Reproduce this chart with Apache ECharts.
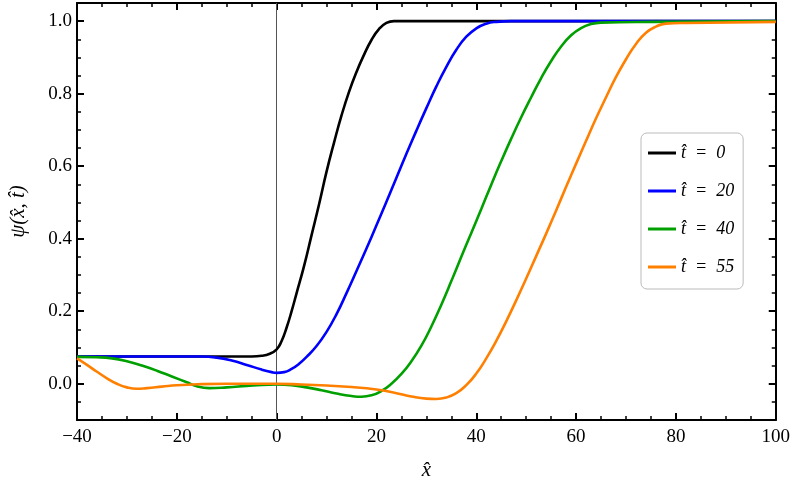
<!DOCTYPE html>
<html>
<head>
<meta charset="utf-8">
<script src="https://cdn.jsdelivr.net/npm/echarts@6/dist/echarts.min.js"></script>
<style>
  html, body { margin: 0; padding: 0; background: #fff; }
  #chart { width: 793px; height: 487px; }
</style>
</head>
<body>
<div id="chart"></div>
<script>
// profiles psi(x, t), [x, psi]
var t0Data = [[-40, 0.075], [-10, 0.075], [-5, 0.075], [-3, 0.077], [-1.5, 0.082], [0, 0.095], [1, 0.118],
  [2, 0.155], [3, 0.2], [4, 0.25], [5.5, 0.325], [7, 0.41], [8.5, 0.495], [10, 0.585], [11.5, 0.665],
  [13, 0.74], [14.5, 0.805], [16, 0.86], [17.5, 0.907], [19, 0.948], [20.5, 0.978], [22, 0.995],
  [23.5, 1.0], [30, 1.0], [100, 1.0]];
var t20Data = [[-40, 0.075], [-15, 0.075], [-12, 0.072], [-9, 0.064], [-6, 0.052], [-3, 0.039], [-1, 0.032],
  [0, 0.03], [1.5, 0.032], [3, 0.041], [4.5, 0.055], [6, 0.074], [8, 0.104], [10, 0.143], [12, 0.192],
  [14, 0.25], [16, 0.311], [18, 0.373], [20, 0.437], [22, 0.502], [24, 0.568], [26, 0.634], [28, 0.698],
  [30, 0.76], [32, 0.82], [34, 0.874], [36, 0.921], [38, 0.957], [40, 0.98], [42, 0.993], [44, 0.998],
  [47, 1.0], [100, 1.0]];
var t40Data = [[-40, 0.074], [-36, 0.073], [-33, 0.07], [-30, 0.062], [-27, 0.05], [-24, 0.036], [-21, 0.02],
  [-18, 0.004], [-16, -0.007], [-13.5, -0.012], [-10, -0.01], [-6, -0.006], [-3, -0.003], [0, -0.002],
  [3, -0.004], [6, -0.01], [9, -0.018], [12, -0.027], [15, -0.034], [17, -0.036], [19, -0.032], [21, -0.02],
  [23, 0.0], [25, 0.027], [27, 0.062], [29, 0.105], [31, 0.158], [33, 0.218], [35, 0.283], [37, 0.35],
  [39, 0.416], [41, 0.482], [43, 0.549], [45, 0.614], [47, 0.676], [49, 0.735], [51, 0.79], [53, 0.843],
  [55, 0.89], [57, 0.93], [59, 0.961], [61, 0.981], [63, 0.992], [65, 0.996], [75, 0.998], [100, 1.0]];
var t55Data = [[-40, 0.07], [-38, 0.052], [-36, 0.033], [-34, 0.015], [-32, 0.0], [-30, -0.01], [-28, -0.014],
  [-26, -0.012], [-23, -0.008], [-20, -0.004], [-15, -0.001], [-10, 0.0], [0, 0.0], [5, -0.002],
  [10, -0.005], [15, -0.009], [20, -0.016], [24, -0.026], [27, -0.035], [30, -0.041], [32, -0.042],
  [34, -0.038], [36, -0.026], [38, -0.004], [40, 0.028], [42, 0.07], [44, 0.118], [46, 0.172], [48, 0.23],
  [50, 0.29], [52, 0.352], [54, 0.414], [56, 0.478], [58, 0.543], [60, 0.607], [62, 0.67], [64, 0.732],
  [66, 0.79], [68, 0.846], [70, 0.895], [72, 0.937], [74, 0.968], [76, 0.985], [78, 0.993], [82, 0.995],
  [100, 0.998]];

var seriesNames = ['t̂  =  0', 't̂  =  20', 't̂  =  40', 't̂  =  55'];
var seriesColors = ['#000000', '#0000ff', '#00a000', '#ff8000'];
var yMajorTicks = [0, 0.2, 0.4, 0.6, 0.8, 1.0];

var serif = '"Liberation Serif", "DejaVu Serif", serif';

function fmtX(v) {
  return v < 0 ? '\u2212' + (-v) : String(v);
}
function fmtY(v) {
  var k = v / 0.2;
  if (Math.abs(k - Math.round(k)) > 1e-6) return '';
  return v.toFixed(1);
}

var frame = { show: true, onZero: false, lineStyle: { color: '#000', width: 2 } };

function xAxisOf(pos, labels) {
  return {
    type: 'value', position: pos, min: -40, max: 100, interval: 20,
    axisLine: frame,
    axisTick: { show: true, inside: true, length: 7, lineStyle: { color: '#000', width: 2 } },
    minorTick: { show: true, splitNumber: 4, length: 4, lineStyle: { color: '#000', width: 1.5 } },
    axisLabel: { show: labels, formatter: fmtX, margin: 8, color: '#000', fontFamily: serif, fontSize: 19 },
    splitLine: { show: false },
    name: labels ? 'x̂' : '', nameLocation: 'middle', nameGap: 40,
    nameTextStyle: { fontFamily: serif, fontStyle: 'italic', fontSize: 21, color: '#000' }
  };
}
function yMinorOf(pos, labels) {
  return {
    type: 'value', position: pos, min: -0.1, max: 1.05, interval: 0.05,
    axisLine: frame,
    axisTick: { show: true, inside: true, length: 4, lineStyle: { color: '#000', width: 1.5 } },
    axisLabel: { show: labels, formatter: fmtY, margin: 5, color: '#000', fontFamily: serif, fontSize: 19 },
    splitLine: { show: false },
    name: labels ? 'ψ(x̂, t̂)' : '', nameLocation: 'middle', nameGap: 48,
    nameTextStyle: { fontFamily: serif, fontStyle: 'italic', fontSize: 21, color: '#000' }
  };
}
function yMajorOf(pos) {
  return {
    type: 'value', position: pos, min: -0.1, max: 1.05,
    axisLine: { show: false, onZero: false },
    axisTick: { show: true, inside: true, length: 7, customValues: yMajorTicks,
      lineStyle: { color: '#000', width: 2 } },
    axisLabel: { show: false },
    splitLine: { show: false }
  };
}

var series = [t0Data, t20Data, t40Data, t55Data].map(function (d, i) {
  return {
    name: seriesNames[i], type: 'line', data: d, smooth: 0.5,
    showSymbol: false, symbol: 'none', z: 5 + i,
    lineStyle: { color: seriesColors[i], width: 2.6 },
    itemStyle: { color: seriesColors[i] }
  };
});
series[0].markLine = {
  silent: true, symbol: 'none', label: { show: false },
  lineStyle: { color: '#555', width: 1, type: 'solid' },
  data: [{ xAxis: 0 }]
};

var myChart = echarts.init(document.getElementById('chart'));
var option = {
  animation: false,
  backgroundColor: '#fff',
  grid: { left: 76, right: 17, top: 3, bottom: 67 },
  legend: {
    orient: 'vertical', left: 641, top: 133,
    data: seriesNames,
    icon: 'rect', itemWidth: 28, itemHeight: 3, itemGap: 20,
    padding: [11, 9, 13, 7],
    backgroundColor: '#fff', borderColor: '#bbb', borderWidth: 1, borderRadius: 6,
    textStyle: { fontFamily: serif, fontStyle: 'italic', fontSize: 18, color: '#000' }
  },
  xAxis: [xAxisOf('bottom', true), xAxisOf('top', false)],
  yAxis: [yMinorOf('left', true), yMajorOf('left'), yMinorOf('right', false), yMajorOf('right')],
  series: series
};
myChart.setOption(option);
</script>
</body>
</html>
